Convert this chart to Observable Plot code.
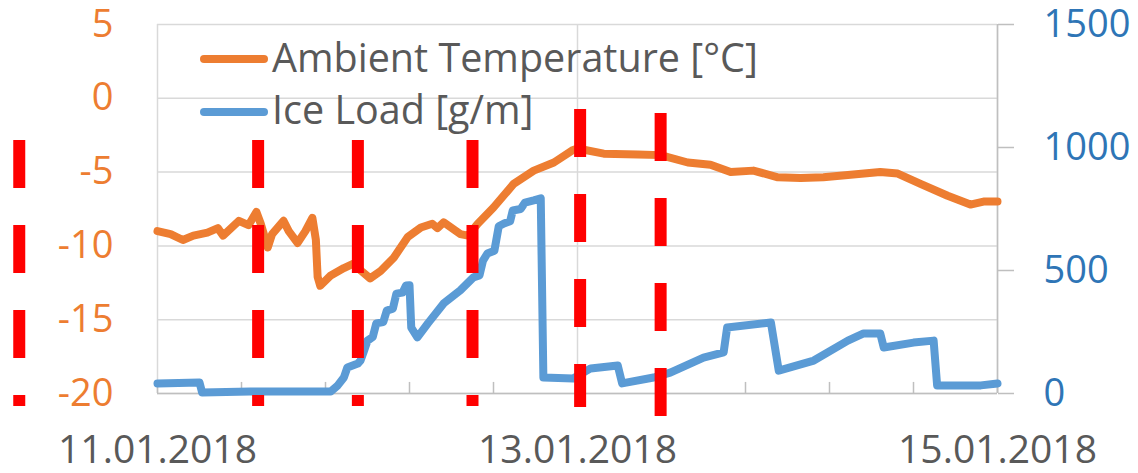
<!DOCTYPE html>
<html>
<head>
<meta charset="utf-8">
<script src="https://cdn.jsdelivr.net/npm/d3@7"></script>
<script src="https://cdn.jsdelivr.net/npm/@observablehq/plot@0.6"></script>
<style>
  body { margin: 0; background: #fff; }
  #wrap { position: relative; width: 1138px; height: 473px; font-family: "Open Sans", sans-serif; }
  .lg-line { position: absolute; width: 68px; height: 8px; border-radius: 4px; }
  .lg-text { position: absolute; font-size: 39.5px; line-height: 39.5px; color: #595959; white-space: nowrap; }
</style>
</head>
<body>
<div id="wrap"></div>
<script>
// ---- data (hours since 11.01.2018 00:00) ----
const tempHours = [0, 1.5, 2.9, 4.1, 5.7, 6.9, 7.5, 9.3, 10.4, 11.3, 11.8, 12.6, 13.1, 14.4, 15.0, 16.0, 16.9, 17.7, 18.1, 18.3, 18.6, 19.8, 21.3, 22.4, 23.3, 24.3, 25.5, 27.0, 28.6, 30.1, 31.4, 32.0, 32.7, 34.6, 35.5, 36.6, 38.4, 40.7, 43.0, 45.3, 47.5, 48.0, 51.0, 54.9, 57.5, 60.6, 63.2, 65.5, 68.1, 70.9, 73.5, 76.1, 78.9, 82.6, 84.6, 87.2, 90.3, 92.9, 94.4, 96.0];
const tempValues = [-9.0, -9.2, -9.6, -9.3, -9.1, -8.8, -9.3, -8.3, -8.6, -7.7, -8.5, -10.1, -9.2, -8.3, -9.0, -9.8, -9.0, -8.1, -9.6, -12.1, -12.7, -12.0, -11.5, -11.2, -11.7, -12.2, -11.7, -10.8, -9.4, -8.75, -8.5, -8.8, -8.4, -9.2, -9.3, -8.5, -7.4, -5.8, -4.9, -4.35, -3.5, -3.4, -3.75, -3.8, -3.85, -4.35, -4.5, -5.0, -4.9, -5.35, -5.4, -5.35, -5.2, -5.0, -5.1, -5.8, -6.6, -7.2, -7.0, -7.0];

const iceHours = [0, 4.8, 5.1, 10.6, 19.8, 20.6, 21.3, 21.7, 22.9, 23.2, 23.5, 24.0, 24.6, 25.0, 25.8, 26.2, 26.9, 27.3, 28.0, 28.4, 28.8, 29.0, 29.7, 30.9, 32.7, 34.6, 36.1, 36.8, 37.2, 37.7, 38.5, 39.0, 39.6, 40.3, 40.6, 41.5, 42.0, 43.0, 43.8, 44.1, 47.5, 49.5, 52.6, 53.1, 56.7, 58.6, 62.4, 64.7, 65.1, 70.1, 71.0, 75.0, 78.9, 80.7, 82.6, 83.0, 86.4, 88.7, 89.1, 94.1, 96.0];
const iceValues = [41, 45, 4, 8, 8, 33, 65, 106, 122, 134, 163, 215, 230, 285, 290, 337, 345, 406, 410, 439, 440, 268, 228, 285, 366, 419, 472, 480, 540, 569, 580, 680, 691, 700, 744, 750, 776, 785, 793, 65, 61, 102, 114, 41, 65, 85, 146, 167, 268, 289, 93, 134, 215, 244, 244, 187, 207, 215, 33, 33, 41];

// red dashed marker lines: hour position, top & bottom (in °C units)
const markerHours = [-15.8, 11.5, 22.9, 36.0, 48.3, 57.5];
const markerTop = [-2.86, -2.86, -2.86, -2.86, -0.76, -1.03];
const markerBottom = [-20.88, -20.88, -20.88, -20.88, -20.95, -21.63];

const leftTicks = [-20, -15, -10, -5, 0, 5];
const rightTicks = [0, 500, 1000, 1500];
const xLabelDays = [0, 2, 4];
const xLabels = ["11.01.2018", "13.01.2018", "15.01.2018"];
const minorTickDays = [0, 0.4, 0.8, 1.2, 1.6, 2.0, 2.4, 2.8, 3.2, 3.6, 4.0];

// ---- helpers ----
const t0 = Date.UTC(2018, 0, 11);
const hourToDate = h => new Date(t0 + h * 3600e3);
const dayToDate = d => new Date(t0 + d * 86400e3);
const iceToTemp = v => -20 + v / 60; // 0..1500 -> -20..5

const temp = tempHours.map((h, i) => ({date: hourToDate(h), v: tempValues[i]}));
const ice = iceHours.map((h, i) => ({date: hourToDate(h), v: iceValues[i]}));
const markers = markerHours.map((h, i) => ({date: hourToDate(h), top: markerTop[i], bottom: markerBottom[i]}));
const labelDates = xLabelDays.map(dayToDate);
const minorDates = minorTickDays.map(dayToDate);

const plot = Plot.plot({
  width: 1138,
  height: 473,
  marginLeft: 157,
  marginRight: 141,
  marginTop: 24,
  marginBottom: 80,
  style: {fontFamily: "'Open Sans', sans-serif", background: "#fff", overflow: "visible"},
  x: {type: "utc", domain: [dayToDate(0), dayToDate(4)]},
  y: {domain: [-20, 5]},
  marks: [
    Plot.ruleY(leftTicks, {stroke: "#D9D9D9", strokeWidth: 1.5}),
    Plot.ruleX(labelDates, {stroke: "#D9D9D9", strokeWidth: 1.5}),
    Plot.ruleY([-20], {stroke: "#BFBFBF", strokeWidth: 1.5}),
    Plot.ruleX([dayToDate(4)], {stroke: "#BFBFBF", strokeWidth: 1.5}),
    Plot.ruleX(minorDates, {x: d => d, y1: -20, y2: -19.25, stroke: "#BFBFBF", strokeWidth: 1.5}),
    Plot.axisY(leftTicks, {anchor: "left", tickSize: 0, tickPadding: 44, fontSize: 38, color: "#ED7D31", tickFormat: d => String(d), label: null}),
    Plot.axisY(rightTicks.map(iceToTemp), {anchor: "right", tickSize: 16, tickPadding: 0, color: "#BFBFBF", strokeWidth: 1.5, tickFormat: () => "", label: null}),
    Plot.axisY(rightTicks.map(iceToTemp), {anchor: "right", tickSize: 0, tickPadding: 46, fontSize: 38, color: "#2E75B6", tickFormat: d => String(Math.round((d + 20) * 60)), label: null}),
    Plot.axisX(labelDates, {anchor: "bottom", tickSize: 0, tickPadding: 42, fontSize: 39, color: "#595959", tickFormat: d => xLabels[xLabelDays.indexOf(Math.round((d - t0) / 86400e3))], label: null}),
    Plot.line(temp, {x: "date", y: "v", stroke: "#ED7D31", strokeWidth: 8, strokeLinejoin: "round", strokeLinecap: "round"}),
    Plot.line(ice, {x: "date", y: d => iceToTemp(d.v), stroke: "#5B9BD5", strokeWidth: 8, strokeLinejoin: "round", strokeLinecap: "round"}),
    Plot.ruleX(markers, {x: "date", y1: "top", y2: "bottom", stroke: "#FF0000", strokeWidth: 12, strokeDasharray: "48,37"})
  ]
});

const wrap = document.getElementById("wrap");
wrap.appendChild(plot);

// legend (inside plot area, top-left)
const legendItems = [
  {label: "Ambient Temperature [°C]", color: "#ED7D31", lineTop: 55, textTop: 38},
  {label: "Ice Load [g/m]", color: "#5B9BD5", lineTop: 108, textTop: 90}
];
for (const it of legendItems) {
  const ln = document.createElement("div");
  ln.className = "lg-line";
  ln.style.left = "200px";
  ln.style.top = it.lineTop + "px";
  ln.style.background = it.color;
  wrap.appendChild(ln);
  const tx = document.createElement("div");
  tx.className = "lg-text";
  tx.style.left = "272px";
  tx.style.top = it.textTop + "px";
  tx.textContent = it.label;
  wrap.appendChild(tx);
}
</script>
</body>
</html>
